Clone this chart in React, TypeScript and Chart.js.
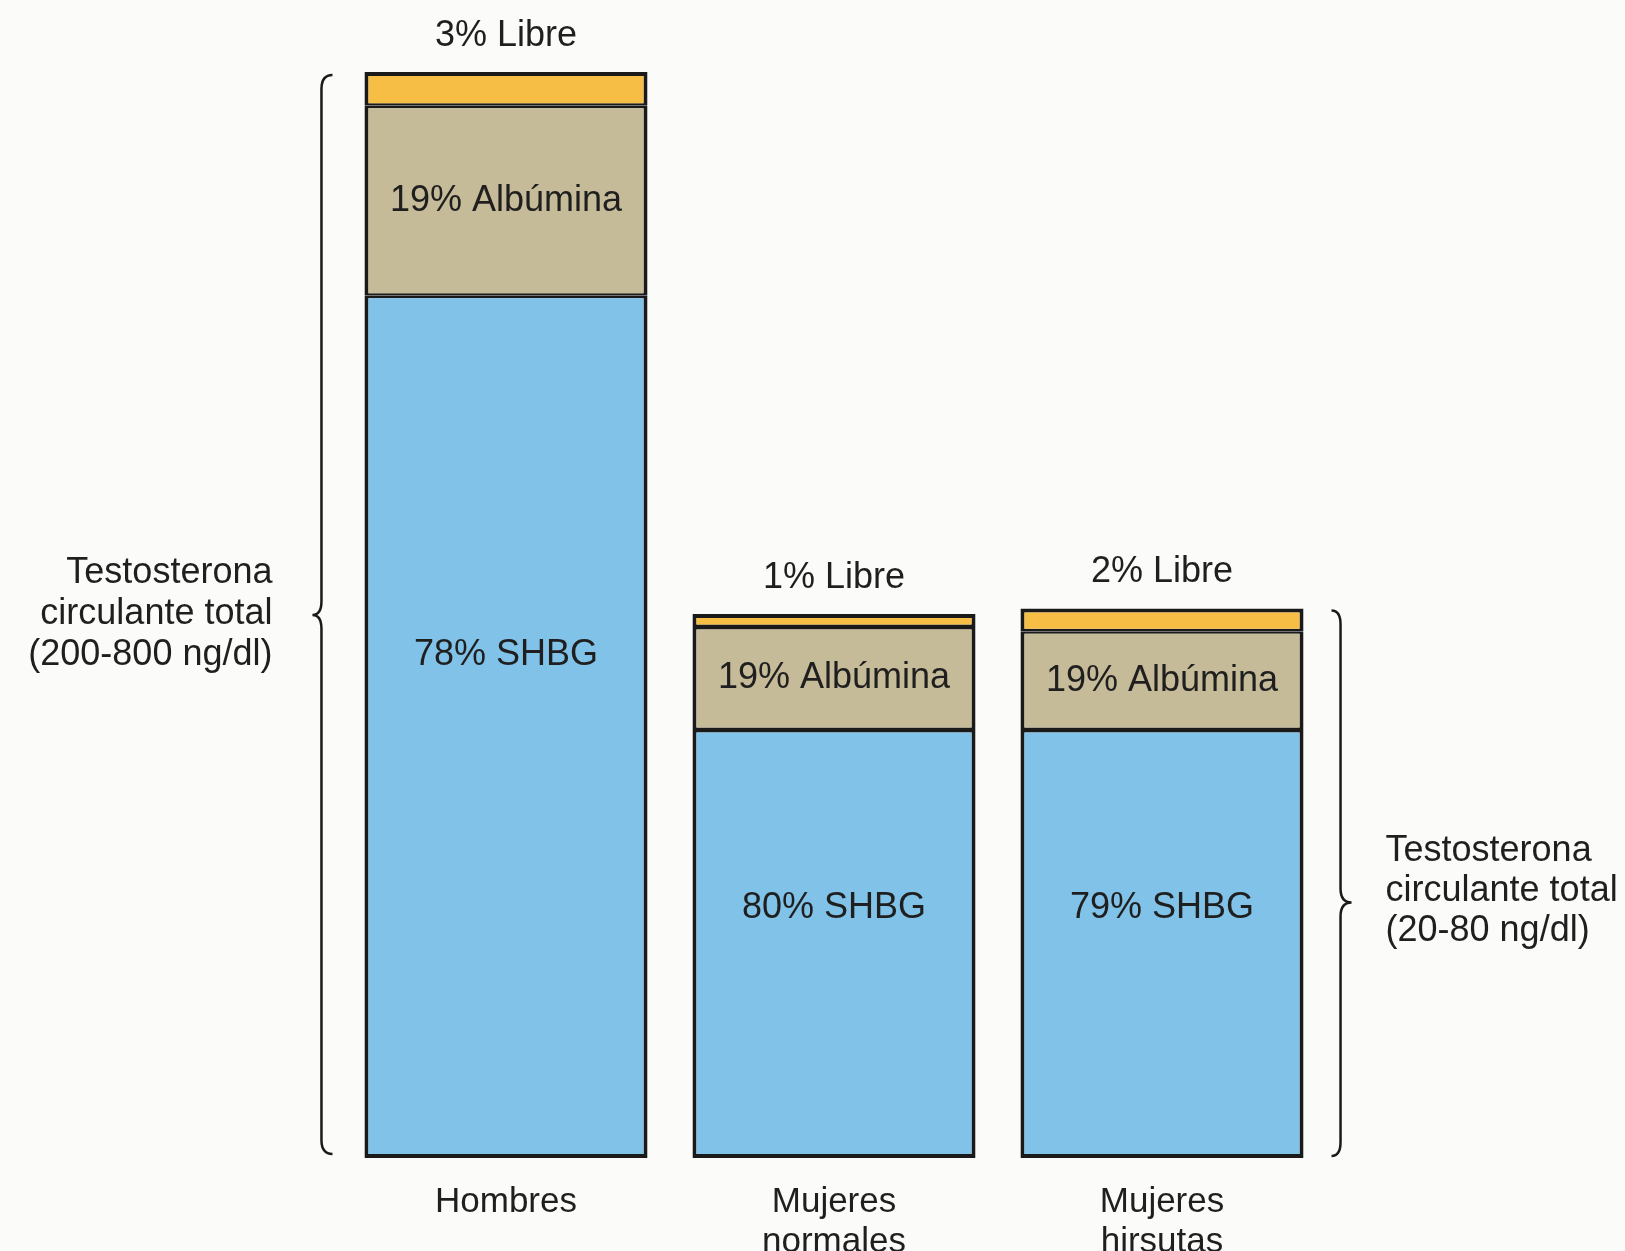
import React, { useEffect, useRef } from "react";
import { Chart, registerables } from "chart.js";

Chart.register(...registerables);

// ---- data ----
const categories: string[][] = [["Hombres"], ["Mujeres", "normales"], ["Mujeres", "hirsutas"]];
// drawn segment heights (relative units, Hombres total = 100)
const shbgHeights = [79.4, 39.4, 39.4];
const albuminHeights = [17.5, 9.5, 9.1];
const libreHeights = [3.1, 1.2, 2.1];
// percentages printed in the segments
const shbgPct = [78, 80, 79];
const albuminPct = [19, 19, 19];
const librePct = [3, 1, 2];
const leftNote = ["Testosterona", "circulante total", "(200-800 ng/dl)"];
const rightNote = ["Testosterona", "circulante total", "(20-80 ng/dl)"];

const FONT = '"Liberation Sans", Arial, Helvetica, sans-serif';
const TEXT = "#1f1f1f";
const EDGE = "#1a1a1a";

function drawBrace(ctx: CanvasRenderingContext2D, xEnd: number, xLine: number, xTip: number, top: number, bottom: number, tipY: number) {
  const r = 14;
  ctx.beginPath();
  ctx.moveTo(xEnd, top);
  ctx.quadraticCurveTo(xLine, top, xLine, top + r);
  ctx.lineTo(xLine, tipY - r);
  ctx.quadraticCurveTo(xLine, tipY, xTip, tipY);
  ctx.quadraticCurveTo(xLine, tipY, xLine, tipY + r);
  ctx.lineTo(xLine, bottom - r);
  ctx.quadraticCurveTo(xLine, bottom, xEnd, bottom);
  ctx.stroke();
}

const annotations = {
  id: "annotations",
  afterDatasetsDraw(chart: any) {
    const ctx: CanvasRenderingContext2D = chart.ctx;
    const shbg = chart.getDatasetMeta(0).data;
    const alb = chart.getDatasetMeta(1).data;
    const lib = chart.getDatasetMeta(2).data;
    ctx.save();
    ctx.fillStyle = TEXT;
    ctx.font = `36px ${FONT}`;
    ctx.textAlign = "center";
    ctx.textBaseline = "middle";
    for (let i = 0; i < categories.length; i++) {
      const s = shbg[i], a = alb[i], l = lib[i];
      ctx.fillText(`${librePct[i]}% Libre`, l.x, l.y - 36);
      ctx.fillText(`${albuminPct[i]}% Albúmina`, a.x, (a.y + a.base) / 2);
      ctx.fillText(`${shbgPct[i]}% SHBG`, s.x, s.base - 0.583 * (s.base - s.y));
    }
    // braces
    ctx.strokeStyle = EDGE;
    ctx.lineWidth = 2.5;
    const b0 = shbg[0], t0 = lib[0];
    const lx = b0.x - b0.width / 2;
    const lTip = (t0.y + b0.base) / 2;
    drawBrace(ctx, lx - 32, lx - 43, lx - 52, t0.y + 3, b0.base - 4, lTip);
    const b2 = shbg[2], t2 = lib[2];
    const rx = b2.x + b2.width / 2;
    const rTip = t2.y + 0.535 * (b2.base - t2.y);
    drawBrace(ctx, rx + 28, rx + 37, rx + 48, t2.y + 2, b2.base - 2, rTip);
    // side notes
    ctx.textAlign = "right";
    leftNote.forEach((t, k) => ctx.fillText(t, lx - 92, lTip - 42 + k * 41));
    ctx.textAlign = "left";
    rightNote.forEach((t, k) => ctx.fillText(t, rx + 82, rTip - 51 + k * 40));
    ctx.restore();
  },
};

export default function App() {
  const ref = useRef<HTMLCanvasElement>(null);
  useEffect(() => {
    if (!ref.current) return;
    const seg = (top: number, bottom: number) => ({ top, bottom, left: 4, right: 4 });
    const chart = new Chart(ref.current, {
      type: "bar",
      data: {
        labels: categories as any,
        datasets: [
          { label: "SHBG", data: shbgHeights, backgroundColor: "#80c2e8", borderColor: EDGE, borderWidth: seg(2.5, 4), borderSkipped: false },
          { label: "Albúmina", data: albuminHeights, backgroundColor: "#c6bb98", borderColor: EDGE, borderWidth: seg(2.5, 2.5), borderSkipped: false },
          { label: "Libre", data: libreHeights, backgroundColor: "#f7be45", borderColor: EDGE, borderWidth: seg(4, 2.5), borderSkipped: false },
        ],
      },
      options: {
        animation: false,
        responsive: true,
        maintainAspectRatio: false,
        layout: { padding: { left: 342, right: 299, top: 72, bottom: 0 } },
        datasets: { bar: { categoryPercentage: 1, barPercentage: 0.863 } },
        plugins: { legend: { display: false }, tooltip: { enabled: false } },
        scales: {
          x: {
            stacked: true,
            grid: { display: false, drawTicks: false },
            border: { display: false },
            ticks: { color: TEXT, font: { size: 35, family: FONT, lineHeight: 1.15 }, padding: 24, maxRotation: 0, autoSkip: false },
            afterFit: (scale: any) => { scale.height = 93; },
          },
          y: { stacked: true, display: false, min: 0, max: 100 },
        },
      },
      plugins: [annotations],
    });
    return () => chart.destroy();
  }, []);
  return (
    <div style={{ position: "fixed", left: 0, top: 0, width: 1625, height: 1251, background: "#fbfcf9" }}>
      <canvas ref={ref} />
    </div>
  );
}
